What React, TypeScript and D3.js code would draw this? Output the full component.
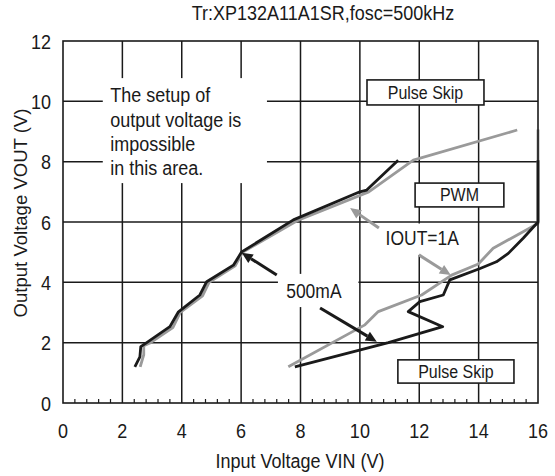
import React from "react";
import * as d3 from "d3";

// ---- data (VIN, VOUT) ----
const black500mALowX = [2.42, 2.59, 2.62, 2.82, 3.6, 3.88, 4.61, 4.84, 5.74, 6.02, 7.76, 10.0, 10.23, 11.29];
const black500mALowY = [1.2, 1.53, 1.87, 2.0, 2.53, 3.01, 3.58, 4.02, 4.57, 5.01, 6.07, 7.0, 7.06, 8.05];
const gray1ALowX = [2.6, 2.72, 2.72, 2.95, 3.7, 3.95, 4.7, 4.92, 5.8, 6.05, 7.9, 10.3, 11.8, 15.3];
const gray1ALowY = [1.2, 1.6, 1.9, 2.0, 2.5, 3.0, 3.55, 4.0, 4.55, 5.0, 6.05, 7.0, 8.05, 9.05];
const black500mAHighX = [7.81, 10.96, 12.79, 11.63, 12.02, 12.81, 13.03, 14.05, 14.6, 15.0, 15.5, 16.0, 16.0];
const black500mAHighY = [1.2, 2.0, 2.53, 3.03, 3.36, 3.58, 4.08, 4.46, 4.68, 4.96, 5.46, 6.0, 8.05];
const gray1AHighX = [7.59, 10.17, 10.62, 12.08, 13.09, 13.99, 14.49, 16.0, 16.0];
const gray1AHighY = [1.2, 2.59, 3.03, 3.58, 4.24, 4.61, 5.13, 5.95, 9.07];

const xTicks = [0, 2, 4, 6, 8, 10, 12, 14, 16];
const yTicks = [0, 2, 4, 6, 8, 10, 12];
const titleText = "Tr:XP132A11A1SR,fosc=500kHz";
const xLabel = "Input Voltage VIN (V)";
const yLabel = "Output Voltage VOUT (V)";
const noteLines = ["The setup of", "output voltage is", "impossible", "in this area."];

const W = 555, H = 476;
const x = d3.scaleLinear().domain([0, 16]).range([63, 538]);
const y = d3.scaleLinear().domain([0, 12]).range([403, 41]);

const FONT = "'Liberation Sans', Arial, sans-serif";
const SY = 1.12;

function zip(xs: number[], ys: number[]): [number, number][] {
  return xs.map((v, i) => [v, ys[i]]);
}
const line = d3.line<[number, number]>().x(d => x(d[0])).y(d => y(d[1]));

function T({ px, py, size, anchor = "middle", children }: any) {
  return (
    <text transform={`translate(${px},${py}) scale(1,${SY})`} fontSize={size} fontFamily={FONT}
      textAnchor={anchor} fill="#1a1a1a">{children}</text>
  );
}

function Arrow({ x1, y1, x2, y2, color }: any) {
  const X1 = x(x1), Y1 = y(y1), X2 = x(x2), Y2 = y(y2);
  const a = Math.atan2(Y2 - Y1, X2 - X1);
  const L = 11, Wd = 5;
  const bx = X2 - L * Math.cos(a), by = Y2 - L * Math.sin(a);
  const p1 = [bx + Wd * Math.sin(a), by - Wd * Math.cos(a)];
  const p2 = [bx - Wd * Math.sin(a), by + Wd * Math.cos(a)];
  return (
    <g>
      <line x1={X1} y1={Y1} x2={bx} y2={by} stroke={color} strokeWidth={3} />
      <path d={`M${X2},${Y2}L${p1[0]},${p1[1]}L${p2[0]},${p2[1]}Z`} fill={color} />
    </g>
  );
}

function Box({ x0, x1, y0, y1, label, size }: any) {
  const X0 = x(x0), X1 = x(x1), Y0 = y(y0), Y1 = y(y1);
  return (
    <g>
      <rect x={X0} y={Y0} width={X1 - X0} height={Y1 - Y0} fill="#fff" stroke="#1a1a1a" strokeWidth={1.6} />
      <T px={(X0 + X1) / 2} py={(Y0 + Y1) / 2 + size * 0.36 * SY} size={size}>{label}</T>
    </g>
  );
}

function Mask({ x0, x1, y0, y1 }: any) {
  return <rect x={x(x0)} y={y(y0)} width={x(x1) - x(x0)} height={y(y1) - y(y0)} fill="#fff" />;
}

export default function App() {
  const minor = d3.range(0, 16.001, 0.4).filter(v => Math.abs(v / 2 - Math.round(v / 2)) > 1e-6);
  const gray = "#9a9a9a";
  const ink = "#1a1a1a";
  return (
    <svg width={W} height={H} style={{ position: "absolute", left: 0, top: 0, background: "#fff" }}>
      <rect width={W} height={H} fill="#fff" />
      {/* grid */}
      {xTicks.slice(1, -1).map(t => (
        <line key={"gx" + t} x1={x(t)} x2={x(t)} y1={y(0)} y2={y(12)} stroke={ink} strokeWidth={1.5} />
      ))}
      {yTicks.slice(1, -1).map(t => (
        <line key={"gy" + t} x1={x(0)} x2={x(16)} y1={y(t)} y2={y(t)} stroke={ink} strokeWidth={1.5} />
      ))}
      {minor.map(t => (
        <line key={"mt" + t} x1={x(t)} x2={x(t)} y1={y(0)} y2={y(0) - 4} stroke={ink} strokeWidth={1.2} />
      ))}
      {/* white masks behind free text */}
      <Mask x0={1.34} x1={6.87} y0={10.77} y1={7.29} />
      <Mask x0={7.24} x1={9.95} y0={4.28} y1={3.18} />
      <Mask x0={10.7} x1={13.45} y0={5.95} y1={4.91} />
      {/* curves */}
      <path d={line(zip(gray1ALowX, gray1ALowY)) || ""} fill="none" stroke={gray} strokeWidth={2.8} strokeLinejoin="round" />
      <path d={line(zip(gray1AHighX, gray1AHighY)) || ""} fill="none" stroke={gray} strokeWidth={2.8} strokeLinejoin="round" />
      <path d={line(zip(black500mALowX, black500mALowY)) || ""} fill="none" stroke={ink} strokeWidth={2.8} strokeLinejoin="round" />
      <path d={line(zip(black500mAHighX, black500mAHighY)) || ""} fill="none" stroke={ink} strokeWidth={2.8} strokeLinejoin="round" />
      {/* arrows */}
      <Arrow x1={7.2} y1={4.24} x2={6.02} y2={4.98} color={ink} />
      <Arrow x1={8.66} y1={3.15} x2={10.57} y2={2.03} color={ink} />
      <Arrow x1={10.64} y1={5.8} x2={9.67} y2={6.46} color={gray} />
      <Arrow x1={11.99} y1={4.91} x2={13.06} y2={4.24} color={gray} />
      {/* boxed labels */}
      <Box x0={10.24} x1={14.18} y0={10.71} y1={9.88} label="Pulse Skip" size={16} />
      <Box x0={11.86} x1={14.85} y0={7.29} y1={6.5} label="PWM" size={16} />
      <Box x0={11.28} x1={15.19} y0={1.43} y1={0.66} label="Pulse Skip" size={16} />
      {/* free text */}
      {noteLines.map((s, i) => (
        <T key={s} px={x(1.59)} py={y(10.0) + 1 + i * 24.3} size={18} anchor="start">{s}</T>
      ))}
      <T px={x(8.45)} py={y(3.7) + 6.5} size={17.5}>500mA</T>
      <T px={x(12.1)} py={y(5.45) + 6.5} size={17.5}>IOUT=1A</T>
      {/* frame */}
      <rect x={x(0)} y={y(12)} width={x(16) - x(0)} height={y(0) - y(12)} fill="none" stroke={ink} strokeWidth={1.6} />
      {/* tick labels */}
      {xTicks.map(t => (
        <T key={"xl" + t} px={x(t)} py={438} size={18}>{t}</T>
      ))}
      {yTicks.map(t => (
        <T key={"yl" + t} px={51} py={y(t) + 7.5} size={18} anchor="end">{t}</T>
      ))}
      {/* titles */}
      <T px={323} py={19.5} size={18}>{titleText}</T>
      <T px={300} py={468} size={18}>{xLabel}</T>
      <text transform={`translate(27,213) rotate(-90) scale(1.03,1)`} fontSize={18} fontFamily={FONT}
        textAnchor="middle" fill={ink}>{yLabel}</text>
    </svg>
  );
}
